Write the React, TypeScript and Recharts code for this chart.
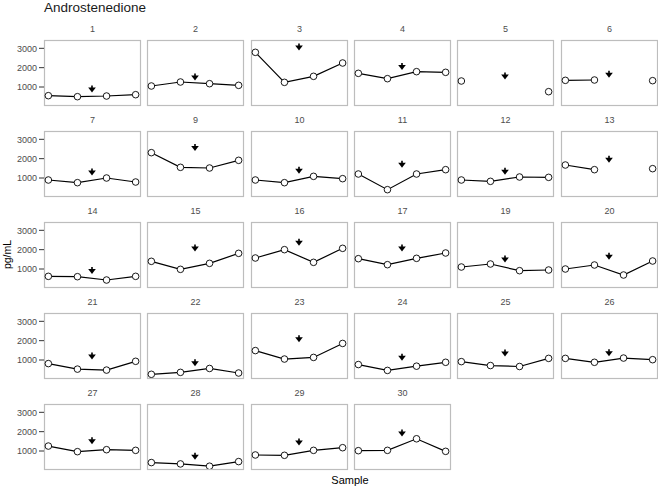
import React from 'react';
import { LineChart, Line, XAxis, YAxis, ReferenceDot } from 'recharts';

// Subject ids, one facet each, in reading order
const SUBJECTS = ['1', '2', '3', '4', '5', '6', '7', '9', '10', '11', '12', '13', '14', '15', '16', '17', '19', '20', '21', '22', '23', '24', '25', '26', '27', '28', '29', '30'];

// Sample index along the x axis
const SAMPLES = [1, 2, 3, 4];

// Androstenedione (pg/mL) per subject, four samples each; null = not measured
const LEVELS: (number | null)[][] = [
  [552, 500, 534, 603],
  [1052, 1259, 1172, 1086],
  [2793, 1241, 1552, 2241],
  [1707, 1431, 1793, 1759],
  [1310, null, null, 759],
  [1345, 1362, null, 1328],
  [897, 759, 1000, 793],
  [2310, 1552, 1517, 1914],
  [897, 759, 1086, 966],
  [1207, 397, 1207, 1431],
  [897, 828, 1052, 1034],
  [1672, 1431, null, 1483],
  [621, 603, 431, 621],
  [1397, 983, 1293, 1810],
  [1569, 2000, 1345, 2069],
  [1534, 1224, 1552, 1828],
  [1103, 1259, 914, 948],
  [1000, 1207, 690, 1414],
  [815, 529, 479, 933],
  [261, 361, 563, 328],
  [1487, 1050, 1134, 1857],
  [765, 462, 681, 882],
  [916, 714, 664, 1084],
  [1084, 882, 1101, 1017],
  [1256, 966, 1068, 1034],
  [402, 333, 214, 453],
  [795, 778, 1034, 1171],
  [1017, 1034, 1632, 983],
];

// Height of the intervention marker drawn between samples 2 and 3
const MARKERS = [
  897, 1517, 3069, 2052, 1569, 1655,
  1310, 2569, 1397, 1707, 1345, 1966,
  914, 2086, 2379, 2086, 1517, 1655,
  1202, 849, 2092, 1134, 1353, 1370,
  1530, 726, 1462, 1923,
];
const MARKER_X = 2.5;

const Y_TICKS = [1000, 2000, 3000];
const Y_DOMAIN = [70, 3430];
const X_DOMAIN = [0.85, 4.15];

const FONT = '"Liberation Sans", Arial, Helvetica, sans-serif';
const NCOL = 6;
const PANEL_W = 96;
const PANEL_H = 65;
const AXIS_W = 40;
const colLeft = (c: number) => Math.round(44 + c * 103.3);
const rowTop = (r: number) => Math.round(40 + r * 91.1);

// downward arrow: short stem over a filled head
const Arrow = (props: any) => {
  const { cx, cy } = props;
  if (cx == null || cy == null) return null;
  return (
    <g>
      <line x1={cx} x2={cx} y1={cy - 3.6} y2={cy - 1} stroke="#000" strokeWidth={1.6} />
      <polygon points={`${cx - 3.8},${cy - 1.6} ${cx + 3.8},${cy - 1.6} ${cx},${cy + 3.4}`} fill="#000" />
    </g>
  );
};

function Panel({ index }: { index: number }) {
  const col = index % NCOL;
  const row = Math.floor(index / NCOL);
  const first = col === 0;
  const data = SAMPLES.map((x, i) => ({ x, y: LEVELS[index][i] }));
  const width = first ? PANEL_W + AXIS_W : PANEL_W;
  return (
    <div style={{ position: 'absolute', left: colLeft(col) - (first ? AXIS_W : 0), top: rowTop(row) }}>
      <LineChart width={width} height={PANEL_H} data={data} margin={{ top: 0, right: 0, bottom: 0, left: 0 }}>
        <XAxis type="number" dataKey="x" domain={X_DOMAIN} allowDataOverflow hide />
        <YAxis
          type="number"
          domain={Y_DOMAIN}
          allowDataOverflow
          ticks={Y_TICKS}
          hide={!first}
          width={AXIS_W}
          axisLine={false}
          tickSize={5}
          tickMargin={2}
          tickLine={{ stroke: '#333', strokeWidth: 1 }}
          tick={{ fontSize: 9, fill: '#4d4d4d', fontFamily: FONT }}
        />
        <Line
          type="linear"
          dataKey="y"
          stroke="#000"
          strokeWidth={1.2}
          connectNulls={false}
          dot={{ r: 3.3, fill: '#fff', stroke: '#000', strokeWidth: 0.9, clipDot: false }}
          isAnimationActive={false}
        />
        <ReferenceDot x={MARKER_X} y={MARKERS[index]} r={4} shape={Arrow} ifOverflow="visible" />
      </LineChart>
    </div>
  );
}

export default function App() {
  return (
    <div style={{ position: 'absolute', left: 0, top: 0, width: 658, height: 490, background: '#fff', fontFamily: FONT }}>
      <svg width={658} height={490} style={{ position: 'absolute', left: 0, top: 0 }}>
        <text x={44} y={11.7} fontSize={13.5} fill="#1a1a1a">Androstenedione</text>
        {SUBJECTS.map((s, i) => {
          const c = colLeft(i % NCOL);
          const r = rowTop(Math.floor(i / NCOL));
          return (
            <g key={s}>
              <rect x={c + 0.5} y={r + 0.5} width={PANEL_W} height={PANEL_H} fill="none" stroke="#bdbdbd" strokeWidth={1.2} />
              <text x={c + PANEL_W / 2 + 0.5} y={r - 7.7} fontSize={9} fill="#4d4d4d" textAnchor="middle">{s}</text>
            </g>
          );
        })}
        <text x={350} y={484} fontSize={11} fill="#000" textAnchor="middle">Sample</text>
        <text transform="translate(10.5,254.5) rotate(-90)" fontSize={10.5} fill="#000" textAnchor="middle">pg/mL</text>
      </svg>
      {SUBJECTS.map((s, i) => (
        <Panel key={s} index={i} />
      ))}
    </div>
  );
}
